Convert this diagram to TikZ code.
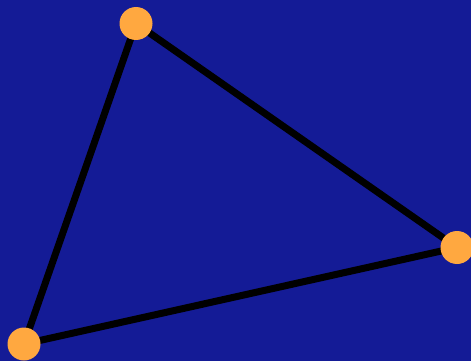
\documentclass[tikz,border=0pt]{standalone}
\usetikzlibrary{backgrounds}
\definecolor{bg}{HTML}{141B96}
\definecolor{dot}{HTML}{FFA840}
\begin{document}
\begin{tikzpicture}[x=1pt,y=-1pt,
  vtx/.style={circle,fill=dot,minimum size=33pt,inner sep=0pt},
  edge/.style={line width=7pt,black}]
\useasboundingbox (0,0) rectangle (471,361);
\node[vtx] (a) at (136,23.5) {};
\node[vtx] (b) at (457,247.5) {};
\node[vtx] (c) at (24,344) {};
\begin{pgfonlayer}{background}
\fill[bg] (0,0) rectangle (471,361);
\draw[edge] (a.center) -- (b.center) -- (c.center) -- cycle;
\end{pgfonlayer}
\end{tikzpicture}
\end{document}
